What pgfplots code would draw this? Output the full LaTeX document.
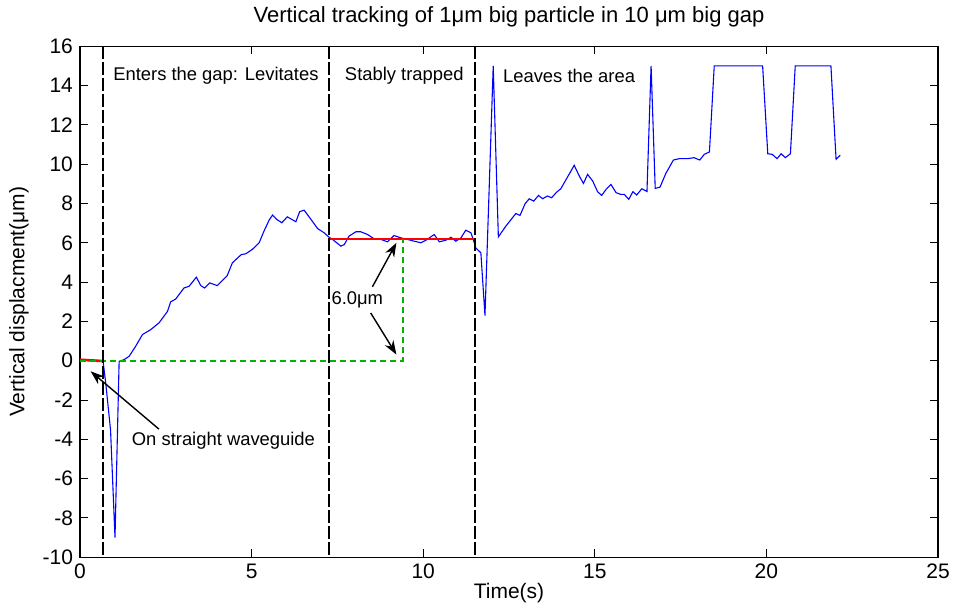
\documentclass[border=0pt]{standalone}
\usepackage{fontspec}
\setmainfont{Liberation Sans}
\usepackage{pgfplots}
\pgfplotsset{compat=1.18}
\usetikzlibrary{arrows.meta}

\definecolor{mgreen}{RGB}{0,180,0}

\begin{document}
\begin{tikzpicture}
\begin{axis}[
  scale only axis,
  width=429pt, height=255.5pt,
  xmin=0, xmax=25, ymin=-10, ymax=16,
  xtick={0,5,...,25},
  ytick={-10,-8,...,16},
  tick align=inside,
  major tick length=4pt,
  tick style={black, line width=0.5pt},
  axis line style={black, line width=0.6pt},
  /pgf/number format/assume math mode=true,
  ticklabel style={font=\fontsize{10.5}{12}\selectfont},
  label style={font=\fontsize{10.5}{12}\selectfont},
  title style={font=\fontsize{11}{13}\selectfont},
  title={Vertical tracking of 1μm big particle in 10 μm big gap},
  xlabel={Time(s)},
  ylabel={Vertical displacment(μm)},
  xlabel style={yshift=5pt},
  ylabel style={yshift=0pt},
  clip=false,
]
% measured vertical position of the particle
\addplot[blue, line width=0.55pt] coordinates {
(0,0.05) (0.33,0.03) (0.67,0.0) (0.75,-1.14) (0.89,-3.52) (1.02,-9.0) (1.14,-0.03)
(1.28,0.05) (1.43,0.22) (1.62,0.73) (1.82,1.33) (2.06,1.58) (2.30,1.92) (2.55,2.51)
(2.64,2.99) (2.79,3.14) (3.03,3.70) (3.18,3.79) (3.39,4.25) (3.52,3.82) (3.63,3.70)
(3.78,3.96) (4.00,3.82) (4.29,4.33) (4.44,4.98) (4.70,5.40) (4.83,5.44) (5.02,5.66)
(5.22,6.00) (5.36,6.59) (5.51,7.15) (5.61,7.41) (5.73,7.19) (5.88,7.02) (6.04,7.32)
(6.29,7.07) (6.40,7.58) (6.53,7.66) (6.73,7.19) (6.92,6.73) (7.11,6.51) (7.26,6.28)
(7.36,6.17) (7.60,5.83) (7.70,5.91) (7.84,6.34) (8.04,6.56) (8.18,6.56) (8.38,6.42)
(8.57,6.20) (8.77,6.17) (8.96,6.05) (9.15,6.37) (9.35,6.25) (9.54,6.17) (9.74,6.08)
(9.93,6.0) (10.08,6.13) (10.32,6.42) (10.47,6.05) (10.66,6.13) (10.81,6.28) (10.95,6.08)
(11.10,6.25) (11.24,6.64) (11.39,6.51) (11.49,6.0) (11.53,5.74) (11.68,5.49) (11.80,2.30)
(12.04,15.0) (12.19,6.30) (12.41,6.85) (12.70,7.49) (12.82,7.39) (12.97,7.99) (13.09,8.24)
(13.22,8.12) (13.36,8.41) (13.48,8.24) (13.62,8.38) (13.74,8.29) (13.89,8.58) (14.01,8.75)
(14.21,9.36) (14.40,9.94) (14.55,9.39) (14.67,9.02) (14.79,9.48) (14.94,9.14) (15.08,8.60)
(15.20,8.41) (15.33,8.72) (15.47,8.97) (15.62,8.55) (15.76,8.46) (15.86,8.46) (15.99,8.21)
(16.11,8.60) (16.22,8.43) (16.37,8.75) (16.52,8.61) (16.64,15.0) (16.76,8.77) (16.90,8.83)
(17.07,9.53) (17.29,10.21) (17.46,10.28) (17.71,10.28) (17.89,10.33) (18.06,10.21)
(18.19,10.50) (18.34,10.62) (18.48,15.0) (19.89,15.0) (20.04,10.53) (20.17,10.50)
(20.31,10.28) (20.43,10.53) (20.55,10.33) (20.70,10.53) (20.84,15.0) (21.88,15.0)
(22.03,10.25) (22.15,10.45)
};
% mean levels
\addplot[red, line width=1.3pt] coordinates {(0,0.05) (0.67,-0.02)};
\addplot[red, line width=1.3pt] coordinates {(7.25,6.2) (11.5,6.2)};
% height difference
\addplot[mgreen, line width=1pt, dash pattern=on 3pt off 2pt] coordinates {(0,0) (9.4,0) (9.4,6.2)};
% phase boundaries
\addplot[black, line width=1pt, dash pattern=on 6.5pt off 1.5pt] coordinates {(0.67,16) (0.67,-10)};
\addplot[black, line width=1pt, dash pattern=on 6.5pt off 1.5pt] coordinates {(7.25,16) (7.25,-10)};
\addplot[black, line width=1pt, dash pattern=on 6.5pt off 1.5pt] coordinates {(11.5,16) (11.5,-10)};

\node[font=\fontsize{9.2}{11}\selectfont] at (axis cs:3.96,14.5) {Enters the gap: Levitates};
\node[font=\fontsize{9.2}{11}\selectfont] at (axis cs:9.45,14.5) {Stably trapped};
\node[font=\fontsize{9.2}{11}\selectfont] at (axis cs:14.25,14.5) {Leaves the area};
\node[font=\fontsize{9.2}{11}\selectfont] at (axis cs:8.08,3.1) {6.0μm};
\node[font=\fontsize{9.2}{11}\selectfont] at (axis cs:4.18,-4.06) {On straight waveguide};

\draw[-{Stealth[length=7pt,width=5pt]}, line width=0.7pt] (axis cs:8.52,3.76) -- (axis cs:9.22,6.0);
\draw[-{Stealth[length=7pt,width=5pt]}, line width=0.7pt] (axis cs:8.47,2.43) -- (axis cs:9.22,0.31);
\draw[-{Stealth[length=7pt,width=5pt]}, line width=0.7pt] (axis cs:2.30,-3.48) -- (axis cs:0.31,-0.54);
\end{axis}
% frame of the figure
\path (current axis.south west) ++(-40pt,-25.5pt) coordinate (fsw);
\path (current axis.north east) ++(9.5pt,23pt) coordinate (fne);
\path (fsw) rectangle (fne);
\end{tikzpicture}
\end{document}
